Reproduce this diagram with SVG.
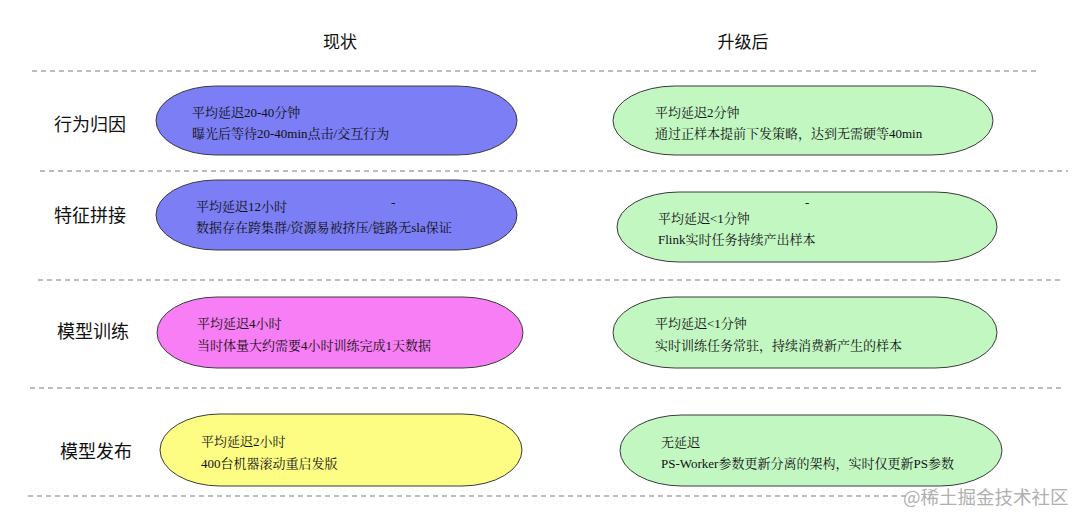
<svg xmlns="http://www.w3.org/2000/svg" width="1080" height="524" viewBox="0 0 1080 524">
<style>
.bg{fill:#ffffff}
.sep{stroke:#a6a6a6;stroke-width:1.3;stroke-dasharray:5,4;fill:none}
.hdr{font-family:"Noto Sans CJK SC","Noto Sans",sans-serif;font-size:17px;fill:#111}
.lbl{font-family:"Noto Sans CJK SC","Noto Sans",sans-serif;font-size:18px;fill:#111}
.t{font-family:"Liberation Serif","Noto Serif CJK SC","Noto Sans CJK SC",serif;font-size:13px;fill:#111}
.pill{stroke:#3a3a3a;stroke-width:1}
.blue{fill:#7b7ef4}
.green{fill:#c2f7c2}
.pink{fill:#f77ef5}
.yellow{fill:#fdfd84}
.wm{font-family:"Noto Sans CJK SC","Noto Sans",sans-serif;font-size:18.5px;fill:#b0b0b0}
</style>
<rect class="bg" x="0" y="0" width="1080" height="524"/>
<g id="connectors">
<line class="sep" x1="32" y1="71" x2="1036" y2="71"/>
<line class="sep" x1="40" y1="171" x2="1068" y2="171"/>
<line class="sep" x1="38" y1="280" x2="1062" y2="280"/>
<line class="sep" x1="30" y1="388" x2="1062" y2="388"/>
<line class="sep" x1="28" y1="496" x2="906" y2="496"/>
</g>
<g id="headers">
<text class="hdr" x="340" y="48" text-anchor="middle">现状</text>
<text class="hdr" x="743" y="48" text-anchor="middle">升级后</text>
</g>
<g id="row-labels">
<text class="lbl" x="90" y="131" text-anchor="middle">行为归因</text>
<text class="lbl" x="90" y="222" text-anchor="middle">特征拼接</text>
<text class="lbl" x="93" y="338" text-anchor="middle">模型训练</text>
<text class="lbl" x="96" y="458" text-anchor="middle">模型发布</text>
</g>
<g id="n1">
<rect class="pill blue" x="156" y="86" width="361" height="69" rx="60" ry="34.5"/>
<text class="t" x="192" y="117">平均延迟20-40分钟</text>
<text class="t" x="192" y="138">曝光后等待20-40min点击/交互行为</text>
</g>
<g id="n2">
<rect class="pill green" x="613" y="86" width="380" height="69" rx="62" ry="34.5"/>
<text class="t" x="655" y="117">平均延迟2分钟</text>
<text class="t" x="655" y="138">通过正样本提前下发策略，达到无需硬等40min</text>
</g>
<g id="n3">
<rect class="pill blue" x="156" y="180" width="361" height="70" rx="60" ry="35"/>
<text class="t" x="196" y="211">平均延迟12小时</text>
<text class="t" x="391" y="207">-</text>
<text class="t" x="196" y="232">数据存在跨集群/资源易被挤压/链路无sla保证</text>
</g>
<g id="n4">
<rect class="pill green" x="617" y="192" width="380" height="70" rx="62" ry="35"/>
<text class="t" x="805" y="207">-</text>
<text class="t" x="658" y="223">平均延迟&lt;1分钟</text>
<text class="t" x="658" y="244">Flink实时任务持续产出样本</text>
</g>
<g id="n5">
<rect class="pill pink" x="157" y="297" width="366" height="71" rx="60" ry="35.5"/>
<text class="t" x="197" y="328">平均延迟4小时</text>
<text class="t" x="197" y="350">当时体量大约需要4小时训练完成1天数据</text>
</g>
<g id="n6">
<rect class="pill green" x="613" y="297" width="384" height="71" rx="62" ry="35.5"/>
<text class="t" x="655" y="328">平均延迟&lt;1分钟</text>
<text class="t" x="655" y="350">实时训练任务常驻，持续消费新产生的样本</text>
</g>
<g id="n7">
<rect class="pill yellow" x="160" y="414" width="362" height="72" rx="60" ry="36"/>
<text class="t" x="201" y="446">平均延迟2小时</text>
<text class="t" x="201" y="468">400台机器滚动重启发版</text>
</g>
<g id="n8">
<rect class="pill green" x="620" y="415" width="382" height="71" rx="62" ry="35.5"/>
<text class="t" x="661" y="447">无延迟</text>
<text class="t" x="661" y="468">PS-Worker参数更新分离的架构，实时仅更新PS参数</text>
</g>
<text class="wm" x="903" y="504">@稀土掘金技术社区</text>
</svg>
